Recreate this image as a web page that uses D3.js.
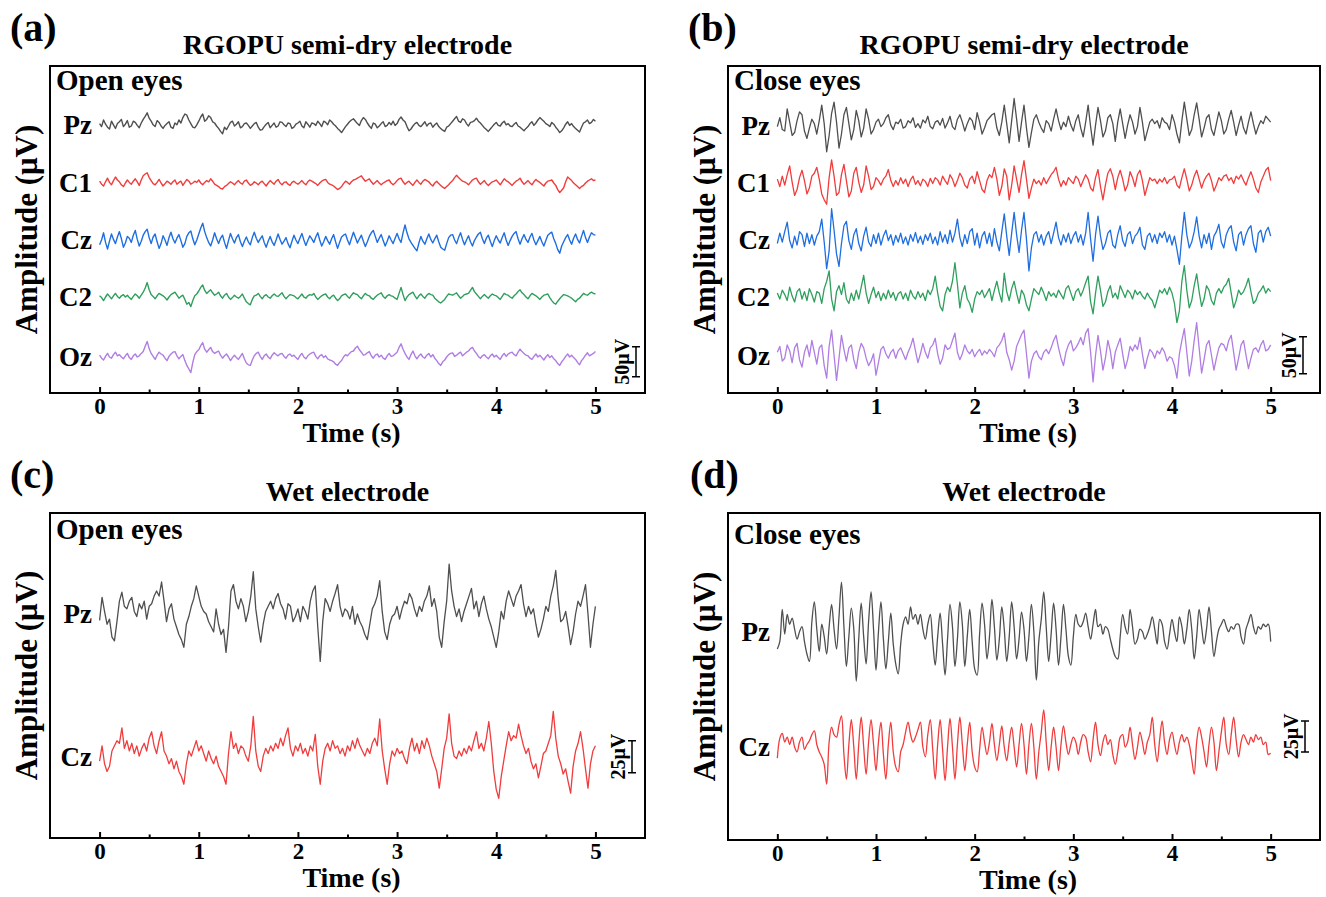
<!DOCTYPE html>
<html>
<head>
<meta charset="utf-8">
<script src="https://cdn.jsdelivr.net/npm/d3@7"></script>
<style>
  body { margin: 0; background: #fff; }
  svg text { font-family: 'Liberation Serif', 'Times New Roman', serif; font-weight: bold; fill: #000; }
</style>
</head>
<body>
<svg id="chart" width="1326" height="897"></svg>
<script>
// time axis (s)
const timeTicks = [0, 1, 2, 3, 4, 5];
const timeMinorTicks = [0.5, 1.5, 2.5, 3.5, 4.5];
const duration = 5;

const semiChannels = ['Pz', 'C1', 'Cz', 'C2', 'Oz'];
const wetChannels = ['Pz', 'Cz'];

// (a) RGOPU semi-dry, open eyes, uV
const semiOpenPz = [2,-3,8,1,-4,-7,6,0,-6,2,5,9,-3,1,7,-4,-2,6,4,-1,-5,3,9,14,20,11,6,0,-3,7,4,-2,-6,-1,2,5,-4,-6,3,0,8,3,12,18,16,8,2,-4,-5,0,
  6,13,18,6,9,15,12,5,3,-2,-6,-11,-15,-4,-8,-2,4,6,-2,1,5,-5,-3,2,3,-1,-6,-2,2,4,-4,-9,-8,-3,1,4,-5,-1,3,-4,-2,5,4,0,-3,3,2,-6,-4,1,
  3,6,-2,-5,5,1,-4,3,2,-1,6,2,-3,6,4,0,8,5,1,-2,-6,-9,-13,-8,-3,1,5,8,10,6,2,-1,7,12,9,3,-2,-6,3,1,-5,-2,2,5,-3,-1,4,0,6,-1,
  2,9,13,8,5,-3,-10,-7,-2,2,4,-1,-3,1,5,-2,2,3,-4,0,3,-3,-6,-9,-11,-4,-2,2,6,10,14,6,4,10,8,2,-2,4,5,7,11,6,3,-1,-5,-8,-11,-7,-3,1,
  4,-1,-2,3,6,0,2,-2,-3,1,4,-2,-4,-7,-10,-6,-3,2,5,-1,3,8,12,9,6,2,0,-3,4,1,-4,-8,-13,-10,-5,1,5,-1,2,-3,-6,-9,-12,-4,3,5,8,2,4,9,6];
const semiOpenC1 = [3,-2,-5,2,8,1,-3,4,10,5,2,-3,-6,0,5,1,-2,3,7,2,-4,5,12,15,17,9,4,-1,-3,1,6,0,-5,-1,3,1,-2,2,5,-2,1,3,-4,1,6,3,-2,0,3,1,
  5,0,-3,1,4,2,7,3,-2,-4,-6,-9,-10,-6,-4,-1,2,0,-3,1,4,0,-2,3,5,0,-4,-2,2,0,-3,1,3,-1,-5,0,4,1,-2,3,6,0,-3,1,2,-2,-4,1,3,0,
  -2,1,4,0,-3,2,5,3,1,-1,-4,0,3,5,6,1,-2,-3,-5,-8,-11,-9,-6,-1,3,1,-2,2,5,6,8,10,12,7,3,5,7,2,-2,1,4,0,-3,0,2,4,5,0,-3,0,
  4,7,8,2,-2,1,3,-1,-4,1,5,1,-2,3,6,4,2,-2,-5,0,3,-1,-4,-7,-9,-6,-3,1,4,9,13,9,6,3,2,0,-3,1,5,7,8,2,-2,1,4,-1,-4,-1,2,3,
  5,1,-3,2,7,4,2,-1,-4,0,3,5,8,2,-2,1,4,0,-3,2,6,3,1,-2,-5,0,3,4,5,0,-4,-11,-16,-12,-8,2,10,7,4,0,-3,-6,-9,-6,-4,0,3,5,7,4,5];
const semiOpenCz = [-8,0,12,-4,-15,-2,10,1,-6,5,14,2,-12,-5,6,3,-4,8,16,1,-10,-2,8,14,18,4,-6,5,10,-3,-14,-6,7,0,-9,4,13,2,-5,3,9,-1,-12,-6,6,12,15,2,-8,0,
  10,20,28,14,4,-4,-10,0,12,2,-6,3,8,-4,-14,-1,11,2,-5,4,9,-3,-11,-2,5,-3,-8,4,13,3,-4,2,7,-4,-12,-2,6,-3,-9,0,10,1,-7,-2,4,-6,-13,-2,8,0,
  -6,3,11,0,-9,-1,7,2,-4,5,12,0,-10,-3,6,-1,-7,2,9,-3,-14,-4,5,8,10,0,-8,3,13,4,-5,2,8,-2,-11,-3,6,12,16,6,-4,3,9,-1,-10,-2,7,0,-6,3,
  11,2,-4,12,25,12,2,-4,-9,-14,-18,-5,6,-2,-7,2,10,1,-5,2,8,-3,-12,-15,-17,-6,4,8,9,0,-6,4,12,1,-8,0,7,-3,-10,-1,5,10,13,2,-6,3,8,-2,-11,-1,
  7,0,-5,4,12,0,-9,-1,6,11,14,2,-7,2,9,1,-4,5,11,0,-8,-1,6,-3,-10,-1,8,11,13,2,-6,-16,-22,-10,-3,4,9,0,-7,3,10,1,-5,6,16,4,-4,5,12,9,8];
const semiOpenC2 = [2,-1,-6,0,5,1,-3,2,6,1,-2,2,4,0,3,-1,-4,1,5,2,-2,3,8,15,24,12,4,1,-3,2,6,4,2,-1,-5,0,4,6,8,3,-2,1,3,-4,-12,-9,-16,-6,2,5,
  10,16,20,11,6,9,12,7,3,5,8,2,-2,3,6,0,-4,-1,3,0,-2,1,5,-2,-8,-11,-13,-4,2,3,6,1,-3,2,4,0,-2,2,5,2,1,4,7,1,-3,1,4,3,2,-1,
  -3,1,5,0,-2,2,4,3,6,0,-4,-1,2,4,5,0,-3,1,3,-2,-6,-3,2,4,5,1,-2,3,7,5,4,0,-3,2,6,3,2,-2,-4,0,3,5,7,1,-2,2,4,2,1,-2,
  -4,6,16,4,-6,0,4,6,8,2,-3,2,5,1,-2,3,6,4,3,-2,-5,-8,-10,-7,-4,1,5,4,3,5,7,2,-2,1,4,5,6,11,16,9,5,1,-3,1,4,1,-2,2,5,3,
  2,-1,-4,1,6,4,3,0,-2,2,5,9,12,7,4,0,-3,2,6,4,2,-1,-4,0,3,4,5,-1,-6,-10,-12,-7,-3,1,4,3,2,0,-2,-5,-8,-4,-2,2,6,4,3,6,8,6,5];
const semiOpenOz = [3,-2,-5,1,6,0,-2,4,8,2,4,0,-3,2,6,-1,-4,2,5,0,2,6,9,18,26,14,6,1,-4,3,8,5,3,-2,-6,1,5,8,9,2,-3,1,4,-6,-14,-20,-26,-9,4,9,
  12,19,24,13,8,12,16,9,6,8,10,3,-2,2,5,0,-6,-1,3,-1,-4,1,6,-3,-10,-13,-14,-5,2,6,8,1,-4,2,5,0,-3,3,7,4,2,5,6,1,-2,3,5,1,3,-1,
  -4,2,6,0,-3,2,5,7,8,1,-3,2,4,-1,2,-3,-5,-6,-8,-12,-14,-9,-6,0,4,2,6,9,10,15,18,12,8,3,4,7,9,2,-2,3,5,0,3,-2,-4,2,6,1,2,5,
  8,16,22,13,6,0,-4,4,10,2,-3,2,5,0,-2,3,6,0,4,-2,-6,-11,-14,-8,-5,0,4,6,7,1,3,6,8,2,5,8,10,14,16,10,6,1,-2,2,4,0,-3,2,5,0,
  3,-1,-4,2,6,1,5,7,8,4,2,8,13,9,6,3,2,-2,-4,1,5,0,3,-1,-5,0,4,-1,2,-3,-6,-11,-14,-8,-4,1,5,0,3,-1,-4,-9,-13,-6,-2,3,7,2,4,6,9];

// (b) RGOPU semi-dry, close eyes, uV
const semiClosePz = [-2,10,-6,-8,22,4,-14,-10,6,18, 14,-8,-18,-4,8,2,-12,6,27,2,
  -36,-14,16,31,4,-31,-12,14,24,2, -20,-6,20,6,-16,-4,22,8,-12,-6,
  4,8,-2,2,10,14,0,-6,4,2, 8,-4,-2,6,3,10,-3,2,-4,7,
  3,12,-2,-5,4,6,0,9,-4,3, 12,-2,-6,8,14,4,-8,2,10,6,
  -6,17,4,-12,-4,6,10,14,16,-4, -14,4,27,2,-24,6,36,8,-22,4,
  27,-4,-30,-10,8,14,4,-4,-10,6, 2,-8,8,22,6,-6,4,-2,12,0,
  -8,6,14,-4,-16,4,27,-2,-27,0, 24,6,-16,-8,10,14,2,-22,4,22,
  2,-18,0,14,4,-12,-2,24,4,-21, -8,4,8,2,6,-4,10,4,2,-6,
  14,4,-12,-24,6,31,8,-14,-6,14, 30,8,-16,-4,10,14,-6,-14,2,18,
  6,-12,-6,8,20,4,-14,0,12,-4, -12,4,18,2,-12,-2,6,2,12,8, 4];
const semiCloseC1 = [4,-6,8,-4,10,22,0,-18,-10,6, 16,2,-16,-8,8,12,20,4,-16,-24,
  -30,6,30,8,-18,-14,10,24,2,-20, -12,12,20,0,-14,-4,22,8,-10,-6,
  6,2,-4,4,8,17,2,-6,2,-4, 6,-2,4,-6,3,8,-3,2,-5,4,
  1,-6,5,-2,6,3,-4,8,2,-3, 10,4,-6,2,12,6,-4,-8,4,8,
  -2,14,2,-10,-14,2,10,6,20,4, -18,-6,18,8,-24,-4,22,4,-14,10,
  29,4,-22,-8,4,-2,2,-4,6,-2, 4,10,14,20,4,-6,2,-4,6,2,
  -2,8,4,-6,2,10,4,-8,-12,6, 17,-6,-24,-4,12,18,8,-10,6,16,
  4,-12,-4,14,6,-6,10,16,2,-18, -6,6,2,4,-2,4,0,6,-2,3,
  4,8,-4,-8,6,18,4,-12,-4,8, 16,4,-8,2,8,12,2,-12,-4,6,
  2,8,10,2,6,-2,8,4,10,2, -4,6,14,4,-8,-14,0,8,16,20, 2];
const semiCloseCz = [-6,8,-4,10,23,-2,-12,4,-8,10, 6,-10,8,-6,6,-8,4,10,27,-4,
  -40,-16,41,12,-20,-37,-6,18,24,-2, -14,6,14,-6,-16,4,16,-4,-10,6,
  -6,8,-8,4,12,-2,6,-8,5,-4, 8,-6,3,-8,6,-3,9,-5,4,-7,
  6,-2,8,-6,3,-8,10,-4,6,-6, 12,-4,8,27,2,-10,6,-6,10,14,
  -8,8,-12,4,10,-6,8,-10,14,-4, -16,10,34,4,-22,8,36,6,-18,12,
  36,0,-43,-12,6,10,-4,6,-8,4, 10,-6,8,23,2,-8,6,-4,8,-6,
  4,10,-4,6,-8,8,36,0,-30,6, 31,4,-14,-6,8,12,-8,-12,6,18,
  -2,-10,6,10,-6,4,8,16,-8,-14, 4,8,-4,6,-6,8,2,10,-4,6,
  -8,4,-14,-34,4,36,6,-12,-4,10, 30,4,-12,6,-6,8,-14,4,10,20,
  -4,-12,6,14,18,-4,-16,6,10,-8, 6,14,18,-6,-18,8,12,-4,10,16, 4];
const semiCloseC2 = [4,-4,8,2,-6,12,0,-8,6,10, -4,6,-6,10,2,-8,6,4,-10,10,
  20,34,-4,-20,6,14,2,18,-4,-10, 4,-6,8,-4,12,28,4,-10,2,12,
  -2,6,-6,4,-4,8,-2,5,-6,3, 6,-4,4,-6,8,0,-4,6,-2,4,
  -6,8,2,10,27,4,-14,-20,2,12, 6,20,45,16,-16,4,14,-4,-10,-22,
  -4,6,2,8,-2,4,10,-6,8,20, 4,-8,31,6,-6,10,20,4,-10,8,
  2,-12,-20,-4,10,6,2,12,4,-6, 6,0,4,-2,8,2,-4,10,14,4,
  -6,6,10,0,8,18,27,-8,-24,4, 27,8,-14,-8,6,14,-2,4,-4,14,
  6,-2,8,4,-4,8,2,6,0,-4, 4,-2,-6,-16,-4,8,4,10,2,12,
  4,-10,-36,-20,20,41,8,-16,-6,14, 30,6,-14,-4,14,8,-6,-12,4,10,
  4,12,16,24,4,-16,-6,8,2,6, 14,24,6,-10,-6,4,8,14,4,10, 6];
const semiCloseOz = [4,12,-8,-4,14,6,-10,10,16,-6, -16,4,14,-2,20,4,-12,10,14,-14,
  -31,12,34,0,-34,-4,27,8,-8,10, 14,-6,-18,4,16,10,-4,-14,-8,2,
  -27,-10,8,12,2,-4,4,8,-4,6, 10,2,-6,4,12,23,6,-10,2,16,
  4,-4,10,14,23,2,-12,-4,14,8, 10,20,30,4,-6,2,14,6,2,8,
  -2,4,8,0,6,2,8,4,-2,10, 14,20,30,4,-6,-20,-8,12,20,28,
  34,2,-31,-8,2,6,-2,-6,4,8, 2,10,20,27,10,-4,-14,4,14,20,
  6,10,16,24,14,30,36,4,-36,0, 27,6,-20,-4,20,6,-18,4,14,23,
  2,-18,-6,12,6,14,8,24,2,-18, -4,8,4,-4,6,2,10,4,-8,-2,
  -4,-14,-31,2,20,36,4,-28,-8,20, 44,10,-24,-6,14,20,0,-20,-4,10,
  16,14,6,20,27,4,-20,-4,14,20, 0,-18,-4,8,10,4,14,20,6,8, 14];

// (c) wet electrode, open eyes, uV
const wetOpenPz = [-5,13,2,-8,-4,-18,-21,-6,10,17, 6,4,10,13,2,-2,8,4,10,-4,
  6,8,14,18,14,25,10,-6,4,8, -4,-10,-16,-20,-26,-8,-2,6,12,22,
  14,6,2,0,-6,-10,-14,4,-8,-16, -12,-30,-10,18,23,10,4,12,6,-6,
  2,14,33,4,-10,-22,-8,2,6,10, 4,12,16,8,4,-4,8,6,-6,-2,
  4,-6,6,2,-4,10,18,22,-10,-37, -6,12,8,2,10,16,23,6,-2,4,
  2,-4,6,-8,0,-6,-10,-16,-20,-8, 4,8,14,26,2,-14,-20,-8,-2,0,
  6,-4,4,10,8,16,12,4,-2,6, 2,10,14,22,6,12,2,-18,-26,-6,
  10,39,18,6,-2,4,-6,2,8,14, 20,4,10,-2,8,14,4,-4,-10,-18,
  -26,-14,2,-4,10,18,12,6,14,18, 23,8,-2,6,0,4,-8,-18,-12,-4,
  6,2,14,22,34,12,-6,-4,2,-10, -24,-14,0,10,6,14,23,0,-26,-8, 6];
const wetOpenCz = [-4,8,-6,-12,-8,4,8,12,10,22, 6,12,4,10,2,8,0,6,10,4,
  14,19,8,2,12,19,4,0,-6,-2, -10,-4,-12,-16,-22,-6,4,0,6,12,
  4,8,2,-4,4,-2,-6,0,-8,-12, -16,-22,2,19,6,10,2,8,6,0,
  -4,8,31,4,-8,-12,0,6,2,8, 4,10,6,14,8,16,22,6,0,8,
  4,10,2,6,0,8,4,17,-8,-22, -4,6,10,4,12,6,8,2,6,0,
  8,4,12,6,14,8,4,0,6,2, 10,14,8,29,4,-10,-22,-6,4,0,
  6,2,4,-2,-6,6,14,4,10,2, 12,6,14,8,0,-6,-12,-25,-10,6,
  14,33,10,0,-2,4,0,6,2,8, 4,12,19,6,10,4,14,27,10,-12,
  -26,-33,-16,-4,8,19,12,16,14,25, 16,8,2,6,-4,-10,-6,-17,-8,2,
  4,10,16,35,14,0,-6,-14,-10,-20, -29,-8,4,10,19,6,-10,-25,-6,4, 8];

// (d) wet electrode, close eyes, uV
const wetClosePz = [-14,-8,18,-2,14,6,11,2,-6,0, 4,-8,-18,-24,8,24,2,-16,6,-4,
  -18,4,22,2,-14,12,40,4,-28,-4, 19,2,-40,-6,23,-4,-26,8,32,2,
  -31,0,24,-6,-30,-8,15,-10,-26,-34, -10,6,12,6,20,10,14,6,14,2,
  -6,6,14,-8,-27,-4,15,-10,-35,-6, 22,4,-28,-6,24,6,-28,-4,18,-8,
  -30,-35,-2,23,6,-22,-4,26,4,-23, -6,20,2,-24,-4,24,4,-22,-6,16,
  2,-24,-4,22,0,-39,-8,10,32,4, -24,-2,23,2,-27,-4,22,2,-20,-27,
  -4,14,6,4,8,15,4,-6,6,18, 4,6,-2,4,2,-6,-14,-20,-22,-4,
  14,4,-2,18,4,-10,-6,2,0,-6, -2,4,12,2,-10,10,6,-8,-14,-2,
  10,0,-8,12,4,-10,2,18,2,-22, -4,18,4,-10,2,20,0,-20,-8,2,
  6,10,4,0,4,2,6,6,-4,-10, 2,8,14,4,-2,4,2,6,4,6, -8];
const wetCloseCz = [-9,7,11,4,8,2,8,0,-4,4, 8,-2,2,5,10,13,2,-4,-8,-14,
  -30,4,16,10,8,18,25,-6,-26,2, 22,0,-26,2,24,0,-22,4,22,2,
  -19,4,20,-6,-26,2,20,-4,-16,-20, -4,2,12,20,10,4,8,14,20,0,
  -8,10,22,-2,-26,2,22,-2,-27,0, 23,0,-26,2,24,2,-19,2,20,-4,
  -16,-20,-2,16,4,-6,4,19,2,-11, 2,17,0,-11,4,16,0,-16,2,19,
  2,-22,2,19,0,-26,-4,12,30,4, -19,0,16,0,-19,2,17,4,-6,2,
  8,4,-6,4,10,8,-4,-12,6,20, 2,-7,4,10,2,6,-6,-14,-4,8,
  10,0,4,16,2,-10,0,12,4,-6, 4,10,24,2,-12,6,21,4,-6,6,
  12,2,-6,4,10,4,8,2,-10,-22, 4,16,8,-4,-16,2,16,4,-19,-4,
  12,24,2,-6,10,24,6,-8,4,10, 6,2,8,4,10,6,8,2,4,-6, -5];

const semiColors = ['#4f4f4f', '#f03c3c', '#1f6ee0', '#2e9f5c', '#b07de3'];
const wetColors = ['#4f4f4f', '#f03c3c'];

const panels = [
  {tag: '(a)', tagX: 10, tagY: 41, title: 'RGOPU semi-dry electrode', state: 'Open eyes', stateDy: 24,
    left: 50, right: 645, top: 66, bottom: 393, pxPerUv: 0.6, curve: d3.curveLinear, width: 1.4,
    names: semiChannels, series: [semiOpenPz, semiOpenC1, semiOpenCz, semiOpenC2, semiOpenOz],
    offsets: [447, 350, 255, 160, 60], colors: semiColors, bar: 50, barBase: 27, barX: 636},
  {tag: '(b)', tagX: 688, tagY: 41, title: 'RGOPU semi-dry electrode', state: 'Close eyes', stateDy: 24,
    left: 728, right: 1320, top: 66, bottom: 393, pxPerUv: 0.74, curve: d3.curveLinear, width: 1.3,
    names: semiChannels, series: [semiClosePz, semiCloseC1, semiCloseCz, semiCloseC2, semiCloseOz],
    offsets: [362, 285, 208, 131, 51], colors: semiColors, bar: 50, barBase: 26, barX: 1303},
  {tag: '(c)', tagX: 10, tagY: 488, title: 'Wet electrode', state: 'Open eyes', stateDy: 26,
    left: 50, right: 645, top: 513, bottom: 838, pxPerUv: 1.28, curve: d3.curveLinear, width: 1.3,
    names: wetChannels, series: [wetOpenPz, wetOpenCz],
    offsets: [175, 64], colors: wetColors, bar: 25, barBase: 51, barX: 632},
  {tag: '(d)', tagX: 690, tagY: 488, title: 'Wet electrode', state: 'Close eyes', stateDy: 31,
    left: 728, right: 1320, top: 513, bottom: 840, pxPerUv: 1.24, curve: d3.curveCatmullRom.alpha(0.5), width: 1.3,
    names: wetChannels, series: [wetClosePz, wetCloseCz],
    offsets: [168, 75], colors: wetColors, bar: 25, barBase: 71, barX: 1305}
];

const svg = d3.select('#chart');

panels.forEach(p => {
  const g = svg.append('g');
  const x = d3.scaleLinear().domain([-0.5, 5.5]).range([p.left, p.right]);
  const y = d3.scaleLinear()
    .domain([0, (p.bottom - p.top) / p.pxPerUv])
    .range([p.bottom, p.top]);
  const midX = (p.left + p.right) / 2;

  // traces
  const line = d3.line()
    .curve(p.curve)
    .x(d => x(d[0]))
    .y(d => y(d[1]));
  p.series.forEach((values, k) => {
    const dt = duration / (values.length - 1);
    const pts = values.map((v, i) => [i * dt, p.offsets[k] + v]);
    g.append('path')
      .datum(pts)
      .attr('fill', 'none')
      .attr('stroke', p.colors[k])
      .attr('stroke-width', p.width)
      .attr('stroke-linejoin', 'round')
      .attr('d', line);
    g.append('text')
      .attr('x', p.left + 42)
      .attr('y', y(p.offsets[k]))
      .attr('dy', '0.35em')
      .attr('text-anchor', 'end')
      .style('font-size', '27px')
      .text(p.names[k]);
  });

  // bottom axis, ticks pointing inward
  const axis = g.append('g')
    .attr('transform', `translate(0,${p.bottom})`)
    .call(d3.axisBottom(x).tickValues(timeTicks).tickSize(-6).tickPadding(5).tickFormat(d3.format('d')));
  axis.select('.domain').remove();
  axis.selectAll('line').attr('stroke', '#000').attr('stroke-width', 2);
  axis.selectAll('text')
    .attr('fill', '#000')
    .style('font-size', '23px')
    .style('font-family', "'Liberation Serif', serif")
    .style('font-weight', 'bold');
  const minor = g.append('g')
    .attr('transform', `translate(0,${p.bottom})`)
    .call(d3.axisBottom(x).tickValues(timeMinorTicks).tickSize(-3.5).tickFormat(''));
  minor.select('.domain').remove();
  minor.selectAll('line').attr('stroke', '#000').attr('stroke-width', 2);

  // frame
  g.append('rect')
    .attr('x', p.left)
    .attr('y', p.top)
    .attr('width', p.right - p.left)
    .attr('height', p.bottom - p.top)
    .attr('fill', 'none')
    .attr('stroke', '#000')
    .attr('stroke-width', 2);

  // scale bar
  const y0 = y(p.barBase);
  const y1 = y(p.barBase + p.bar);
  g.append('path')
    .attr('d', `M${p.barX - 4},${y1}H${p.barX + 4}M${p.barX},${y1}V${y0}M${p.barX - 4},${y0}H${p.barX + 4}`)
    .attr('stroke', '#000')
    .attr('stroke-width', 1.5)
    .attr('fill', 'none');
  g.append('text')
    .attr('transform', `translate(${p.barX - 7},${(y0 + y1) / 2}) rotate(-90)`)
    .attr('text-anchor', 'middle')
    .style('font-size', '20px')
    .text(`${p.bar}μV`);

  // texts
  g.append('text')
    .attr('x', p.left + 6)
    .attr('y', p.top + p.stateDy)
    .style('font-size', '29px')
    .text(p.state);
  g.append('text')
    .attr('x', midX)
    .attr('y', p.top - 12)
    .attr('text-anchor', 'middle')
    .style('font-size', '28px')
    .text(p.title);
  g.append('text')
    .attr('x', p.tagX)
    .attr('y', p.tagY)
    .style('font-size', '40px')
    .text(p.tag);
  g.append('text')
    .attr('x', midX + 4)
    .attr('y', p.bottom + 49)
    .attr('text-anchor', 'middle')
    .style('font-size', '28px')
    .text('Time (s)');
  g.append('text')
    .attr('transform', `translate(${p.left - 13},${(p.top + p.bottom) / 2}) rotate(-90)`)
    .attr('text-anchor', 'middle')
    .style('font-size', '31px')
    .text('Amplitude (μV)');
});
</script>
</body>
</html>
